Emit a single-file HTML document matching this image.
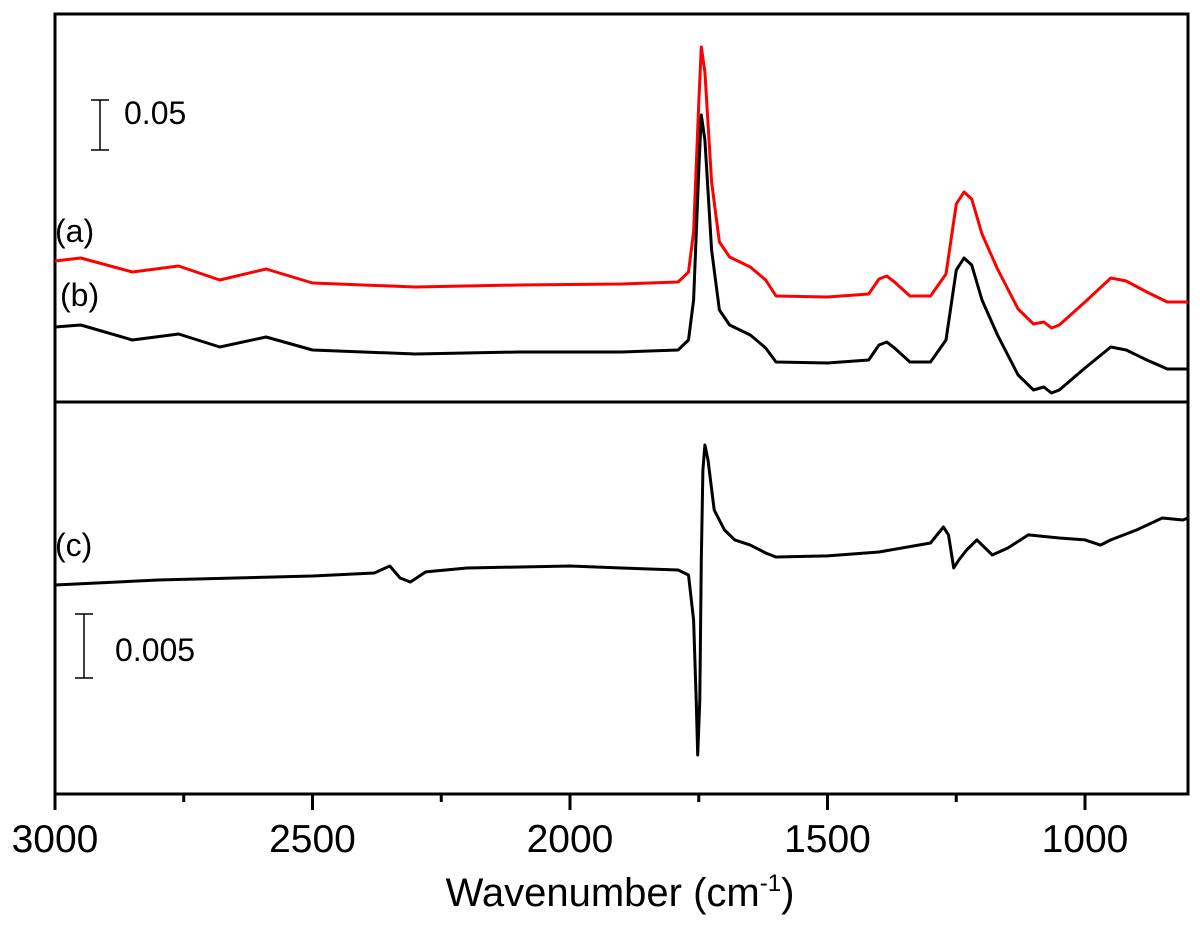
<!DOCTYPE html>
<html><head><meta charset="utf-8"><style>
html,body{margin:0;padding:0;background:#fff;}
svg{display:block;font-family:"Liberation Sans",Arial,sans-serif;}
</style></head><body>
<svg id="chart" width="1200" height="930" viewBox="0 0 1200 930">
<g id="frame">
<rect x="55" y="14" width="1133" height="780" fill="none" stroke="#000" stroke-width="3"/>
<line x1="55" y1="402" x2="1188" y2="402" stroke="#000" stroke-width="3"/>
</g>
<g id="xticks"></g>
<g id="series"></g>
<text x="55" y="242" font-size="32">(a)</text>
<text x="60" y="306" font-size="32">(b)</text>
<text x="55" y="556" font-size="32">(c)</text>
<g>
<line x1="100" y1="100" x2="100" y2="150" stroke="#000" stroke-width="1.5"/>
<line x1="91" y1="100" x2="109" y2="100" stroke="#000" stroke-width="1.5"/>
<line x1="91" y1="150" x2="109" y2="150" stroke="#000" stroke-width="1.5"/>
<text x="124" y="124" font-size="32">0.05</text>
</g>
<g>
<line x1="84" y1="614" x2="84" y2="678" stroke="#000" stroke-width="1.5"/>
<line x1="75" y1="614" x2="93" y2="614" stroke="#000" stroke-width="1.5"/>
<line x1="75" y1="678" x2="93" y2="678" stroke="#000" stroke-width="1.5"/>
<text x="115" y="661" font-size="32">0.005</text>
</g>
<text x="620" y="906" font-size="40" text-anchor="middle">Wavenumber (cm<tspan dy="-15" font-size="24">-1</tspan><tspan dy="15">)</tspan></text>
</svg>
<script>
const xMajorTicks=[3000,2500,2000,1500,1000];
const xMinorTicks=[2750,2250,1750,1250];
const wnB=[3000,2950,2850,2760,2680,2590,2500,2300,2100,1900,1790,1770,1760,1750,1745,1738,1725,1710,1690,1650,1620,1600,1500,1420,1400,1385,1370,1340,1300,1270,1250,1235,1220,1200,1170,1130,1100,1080,1065,1050,1000,950,920,880,840,800];
const absB=[0.075,0.077,0.062,0.068,0.055,0.065,0.052,0.048,0.050,0.050,0.052,0.062,0.102,0.232,0.287,0.262,0.152,0.092,0.077,0.067,0.054,0.040,0.039,0.042,0.057,0.060,0.054,0.040,0.040,0.062,0.132,0.144,0.137,0.102,0.067,0.027,0.012,0.015,0.009,0.012,0.034,0.055,0.052,0.042,0.033,0.033];
const absA=[0.141,0.144,0.130,0.136,0.122,0.133,0.119,0.115,0.117,0.118,0.120,0.130,0.170,0.300,0.355,0.330,0.220,0.160,0.145,0.135,0.122,0.106,0.105,0.108,0.123,0.126,0.120,0.106,0.106,0.128,0.198,0.210,0.203,0.168,0.133,0.093,0.078,0.080,0.074,0.077,0.100,0.124,0.121,0.110,0.100,0.100];
const wnC=[3000,2800,2500,2380,2350,2330,2310,2280,2200,2000,1900,1790,1770,1760,1755,1752,1748,1745,1742,1738,1732,1720,1700,1680,1650,1620,1600,1500,1400,1300,1275,1265,1255,1245,1230,1210,1180,1150,1110,1050,1000,970,950,900,850,810,800];
const absC=[-0.39,0,0.31,0.55,1.09,0.16,-0.16,0.63,0.94,1.09,0.94,0.78,0.39,-3.13,-9.38,-13.67,-9.38,1.56,8.59,10.55,9.38,5.47,3.91,3.13,2.73,2.11,1.8,1.88,2.19,2.89,4.14,3.52,0.94,1.56,2.34,3.13,1.95,2.5,3.52,3.28,3.13,2.73,3.13,3.91,4.84,4.69,4.84];
const NS="http://www.w3.org/2000/svg";
function xScale(w){return 55+(3000-w)*(1133/2200);}
function yTop(v){return 402-v*1000;}
function yBot(v){return 580-v*12.8;}
const xt=document.getElementById('xticks');
xMajorTicks.forEach(t=>{
  const l=document.createElementNS(NS,'line');
  l.setAttribute('x1',xScale(t));l.setAttribute('x2',xScale(t));l.setAttribute('y1',794);l.setAttribute('y2',810);
  l.setAttribute('stroke','#000');l.setAttribute('stroke-width','3');
  
  
  xt.appendChild(l);
  const tx=document.createElementNS(NS,'text');
  tx.setAttribute('x',xScale(t));tx.setAttribute('y',852);tx.setAttribute('font-size','39');tx.setAttribute('text-anchor','middle');
  tx.textContent=t;
  
  
  xt.appendChild(tx);
});
xMinorTicks.forEach(t=>{
  const l=document.createElementNS(NS,'line');
  l.setAttribute('x1',xScale(t));l.setAttribute('x2',xScale(t));l.setAttribute('y1',794);l.setAttribute('y2',802);
  l.setAttribute('stroke','#000');l.setAttribute('stroke-width','3');
  
  
  xt.appendChild(l);
});
const sg=document.getElementById('series');
function draw(wn,vals,ys,color,name){
  const p=document.createElementNS(NS,'polyline');
  p.setAttribute('points',wn.map((w,i)=>xScale(w).toFixed(1)+','+ys(vals[i]).toFixed(1)).join(' '));
  p.setAttribute('fill','none');p.setAttribute('stroke',color);p.setAttribute('stroke-width','3');p.setAttribute('stroke-linejoin','round');
  
  
  sg.appendChild(p);
}
draw(wnB,absA,yTop,'#f00','spectrum-a');
draw(wnB,absB,yTop,'#000','spectrum-b');
draw(wnC,absC,yBot,'#000','spectrum-c');
</script>
</body></html>
